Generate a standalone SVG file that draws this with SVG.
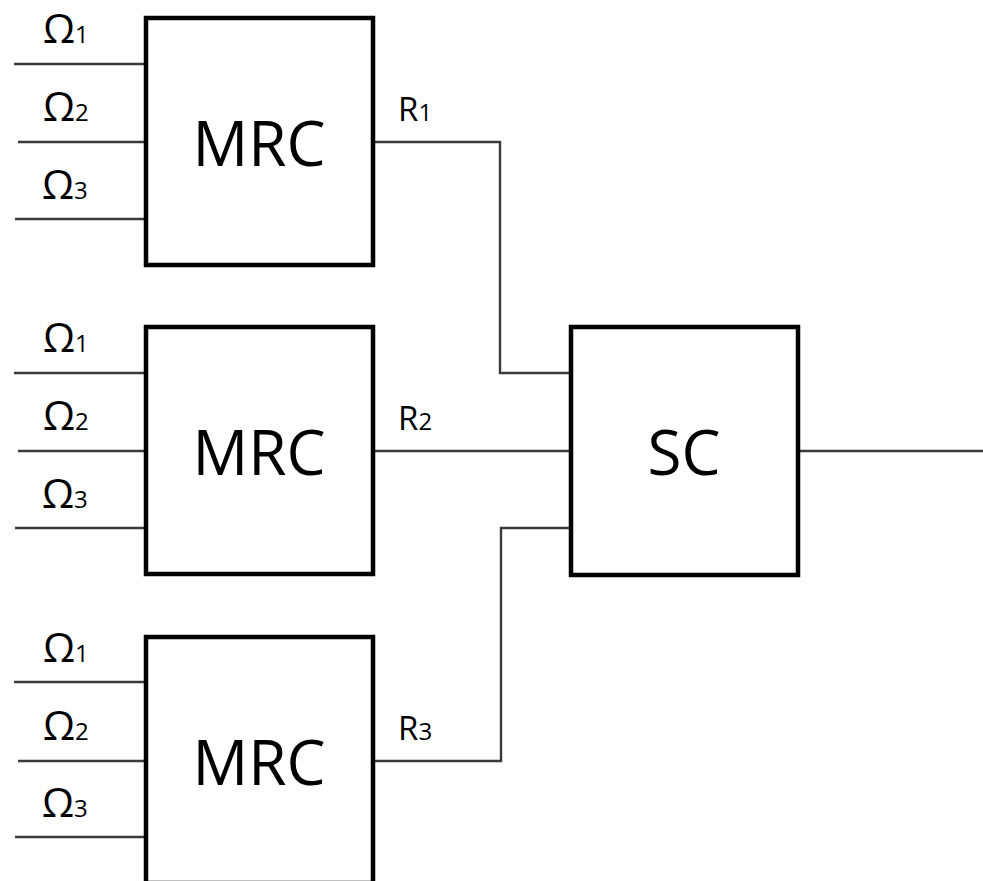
<svg xmlns="http://www.w3.org/2000/svg" width="983" height="881" viewBox="0 0 983 881">
  <style>
    .box { fill: #ffffff; stroke: #000000; stroke-width: 4.5; }
    .wire { fill: none; stroke: #3a3a3a; stroke-width: 2.4; }
    .lbl { font-family: "Open Sans", "Liberation Sans", sans-serif; fill: #000000; }
    .big { font-size: 62px; }
    .om { font-size: 41px; }
    .rr { font-size: 33px; }
    .sub { font-size: 24px; }
  </style>
  <rect width="983" height="881" fill="#ffffff"/>

  <!-- connectors -->
  <g id="connectors">
    <!-- inputs to MRC 1 -->
    <line class="wire" x1="14" y1="64" x2="146" y2="64"/>
    <line class="wire" x1="18" y1="142" x2="146" y2="142"/>
    <line class="wire" x1="15" y1="219" x2="146" y2="219"/>
    <!-- inputs to MRC 2 -->
    <line class="wire" x1="14" y1="373" x2="146" y2="373"/>
    <line class="wire" x1="18" y1="451" x2="146" y2="451"/>
    <line class="wire" x1="15" y1="528" x2="146" y2="528"/>
    <!-- inputs to MRC 3 -->
    <line class="wire" x1="14" y1="682" x2="146" y2="682"/>
    <line class="wire" x1="18" y1="761" x2="146" y2="761"/>
    <line class="wire" x1="15" y1="837" x2="146" y2="837"/>
    <!-- MRC outputs into SC -->
    <polyline class="wire" points="373,142 500,142 500,373 571,373"/>
    <line class="wire" x1="373" y1="451" x2="571" y2="451"/>
    <polyline class="wire" points="373,761 501,761 501,528 571,528"/>
    <!-- SC output -->
    <line class="wire" x1="798" y1="451" x2="983" y2="451"/>
  </g>

  <!-- MRC 1 -->
  <g id="mrc1">
    <rect class="box" x="146" y="18" width="227" height="247"/>
    <text class="lbl big" x="259" y="166" text-anchor="middle">MRC</text>
    <text class="lbl om" x="43" y="43">Ω<tspan class="sub">1</tspan></text>
    <text class="lbl om" x="43" y="121">Ω<tspan class="sub">2</tspan></text>
    <text class="lbl om" x="42" y="199">Ω<tspan class="sub">3</tspan></text>
    <text class="lbl rr" x="398" y="121">R<tspan class="sub">1</tspan></text>
  </g>

  <!-- MRC 2 -->
  <g id="mrc2">
    <rect class="box" x="146" y="327" width="227" height="247"/>
    <text class="lbl big" x="259" y="475" text-anchor="middle">MRC</text>
    <text class="lbl om" x="43" y="352">Ω<tspan class="sub">1</tspan></text>
    <text class="lbl om" x="43" y="430">Ω<tspan class="sub">2</tspan></text>
    <text class="lbl om" x="42" y="508">Ω<tspan class="sub">3</tspan></text>
    <text class="lbl rr" x="398" y="430">R<tspan class="sub">2</tspan></text>
  </g>

  <!-- MRC 3 -->
  <g id="mrc3">
    <rect class="box" x="146" y="637" width="227" height="246"/>
    <text class="lbl big" x="259" y="785" text-anchor="middle">MRC</text>
    <text class="lbl om" x="43" y="662">Ω<tspan class="sub">1</tspan></text>
    <text class="lbl om" x="43" y="740">Ω<tspan class="sub">2</tspan></text>
    <text class="lbl om" x="42" y="817">Ω<tspan class="sub">3</tspan></text>
    <text class="lbl rr" x="398" y="740">R<tspan class="sub">3</tspan></text>
  </g>

  <!-- SC -->
  <g id="sc">
    <rect class="box" x="571" y="327" width="227" height="248"/>
    <text class="lbl big" x="684" y="475" text-anchor="middle">SC</text>
  </g>
</svg>
